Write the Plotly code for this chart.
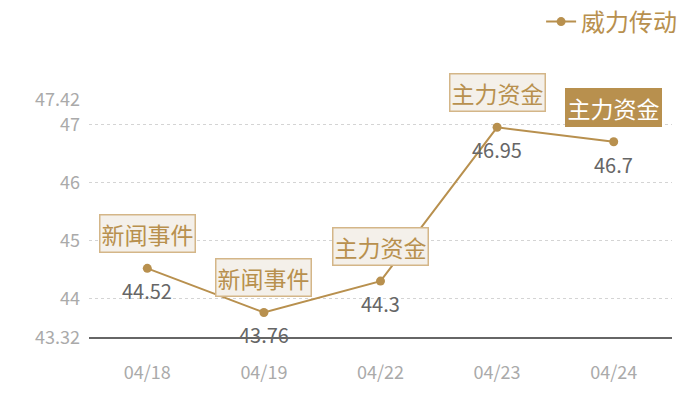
import plotly.graph_objects as go

# Data.
dates = ["04/18", "04/19", "04/22", "04/23", "04/24"]
prices = [44.52, 43.76, 44.3, 46.95, 46.7]
events = ["新闻事件", "新闻事件", "主力资金", "主力资金", "主力资金"]
highlight = [False, False, False, False, True]
y_ticks = [43.32, 44, 45, 46, 47, 47.42]
series_name = "威力传动"

gold = "#b8904e"
font_family = "Noto Sans CJK SC, Microsoft YaHei, sans-serif"

fig = go.Figure()
fig.add_trace(go.Scatter(
    x=dates, y=prices, name=series_name,
    mode="lines+markers",
    line=dict(color=gold, width=2),
    marker=dict(color=gold, size=9),
    cliponaxis=False,
))

for d, p, ev, hl in zip(dates, prices, events, highlight):
    # Boxed event label above the point.
    fig.add_annotation(
        x=d, y=p, text=ev, showarrow=False,
        yanchor="bottom", yshift=15,
        font=dict(size=23, color="white" if hl else gold, family=font_family),
        bgcolor=gold if hl else "#f4f0ea",
        bordercolor=gold if hl else "#d4b688",
        borderwidth=1.5, borderpad=1,
    )
    # Value label below the point.
    fig.add_annotation(
        x=d, y=p, text=str(p), showarrow=False,
        yanchor="top", yshift=-6,
        font=dict(size=20, color="#666666", family=font_family),
    )

# The page shifts the figure 8px right and down, so margins compensate.
fig.update_layout(
    width=700, height=400,
    margin=dict(l=81, r=36, t=92, b=70, autoexpand=False),
    plot_bgcolor="white", paper_bgcolor="white",
    font=dict(family=font_family),
    showlegend=True,
    legend=dict(xref="container", x=0.963, xanchor="right",
                yref="container", y=0.965, yanchor="middle",
                font=dict(size=24, color=gold), itemwidth=30),
)
fig.update_xaxes(
    type="category", range=[-0.5, 4.5], automargin=False,
    showgrid=False, ticks="", showline=False, zeroline=False,
    tickfont=dict(size=18, color="#aaaaaa"), ticklabelstandoff=22,
)
fig.update_yaxes(
    range=[43.32, 47.42], tickvals=y_ticks, automargin=False,
    ticktext=[str(v) for v in y_ticks],
    showgrid=True, gridcolor="#d4d4d4", griddash="dot", gridwidth=1,
    showline=False, zeroline=False, ticks="",
    tickfont=dict(size=18, color="#aaaaaa"), ticklabelstandoff=8,
)
# Dark baseline at the bottom of the plot.
fig.add_shape(type="line", xref="paper", yref="paper", x0=0, x1=1, y0=0, y1=0,
              line=dict(color="#333333", width=1.5), layer="above")

fig.write_html("out.html")
